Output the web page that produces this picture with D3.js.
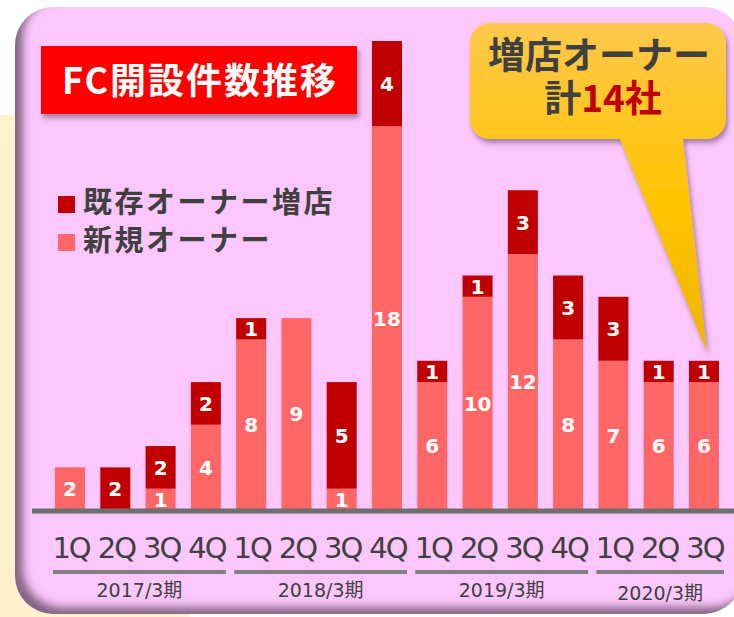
<!DOCTYPE html>
<meta charset="utf-8">
<style>
body { margin: 0; background: #fff; }
svg { display: block; }
.jp { font-family: "Noto Sans CJK JP", sans-serif; font-weight: 700; }
</style>
<body>
<div id="chart"></div>
<script src="https://cdn.jsdelivr.net/npm/d3@7"></script>
<script>

// data
var quarters = ["1Q","2Q","3Q","4Q","1Q","2Q","3Q","4Q","1Q","2Q","3Q","4Q","1Q","2Q","3Q"];
var newOwners = [2, 0, 1, 4, 8, 9, 1, 18, 6, 10, 12, 8, 7, 6, 6];
var existingOwners = [0, 2, 2, 2, 1, 0, 5, 4, 1, 1, 3, 3, 3, 1, 1];
var fiscalYears = ["2017/3期", "2018/3期", "2019/3期", "2020/3期"];
var yearSizes = [4, 4, 4, 3];
var legendLabels = ["既存オーナー増店", "新規オーナー"];

var width = 734, height = 617;
var darkRed = "#C00000", lightRed = "#FF6666", textGrey = "#404040";

var svg = d3.select("#chart").append("svg")
    .attr("width", width)
    .attr("height", height);

var defs = svg.append("defs");

// inner shadow for the pink panel (left and bottom)
var inner = defs.append("filter").attr("id", "inner")
    .attr("x", "-5%").attr("y", "-5%").attr("width", "110%").attr("height", "110%");
inner.append("feOffset").attr("in", "SourceAlpha").attr("dx", 9).attr("dy", -8).attr("result", "off");
inner.append("feGaussianBlur").attr("in", "off").attr("stdDeviation", 4).attr("result", "blur");
inner.append("feComposite").attr("in", "SourceAlpha").attr("in2", "blur").attr("operator", "out").attr("result", "gap");
inner.append("feFlood").attr("flood-color", "#5e3f5e").attr("flood-opacity", 0.85);
inner.append("feComposite").attr("in2", "gap").attr("operator", "in").attr("result", "shadow");
inner.append("feComposite").attr("in", "shadow").attr("in2", "SourceGraphic").attr("operator", "over");

// drop shadow for the title box and the callout
var drop = defs.append("filter").attr("id", "drop")
    .attr("x", "-10%").attr("y", "-10%").attr("width", "130%").attr("height", "130%");
drop.append("feGaussianBlur").attr("in", "SourceAlpha").attr("stdDeviation", 2.5);
drop.append("feOffset").attr("dx", 2).attr("dy", 4).attr("result", "ob");
drop.append("feFlood").attr("flood-color", "#6a4a6a").attr("flood-opacity", 0.6);
drop.append("feComposite").attr("in2", "ob").attr("operator", "in");
var dm = drop.append("feMerge");
dm.append("feMergeNode");
dm.append("feMergeNode").attr("in", "SourceGraphic");

var grad = defs.append("linearGradient").attr("id", "yellow")
    .attr("gradientUnits", "userSpaceOnUse")
    .attr("x1", 0).attr("y1", 23).attr("x2", 0).attr("y2", 352);
grad.append("stop").attr("offset", 0).attr("stop-color", "#FFC84C");
grad.append("stop").attr("offset", 0.55).attr("stop-color", "#FFC400");
grad.append("stop").attr("offset", 1).attr("stop-color", "#EDB500");

// background panels
svg.append("rect")
    .attr("x", -10).attr("y", 115).attr("width", 200).attr("height", 520)
    .attr("fill", "#FFF2CC");

svg.append("rect")
    .attr("x", 15).attr("y", 7).attr("width", 727).attr("height", 607)
    .attr("rx", 38).attr("ry", 38)
    .attr("fill", "#FCC7FC")
    .attr("filter", "url(#inner)");

// scales
var x = d3.scaleBand()
    .domain(d3.range(quarters.length))
    .range([47.4, 726.6])
    .paddingInner(0.337)
    .paddingOuter(0.1685);

var y = d3.scaleLinear()
    .domain([0, 22])
    .range([510, 41]);

var rows = quarters.map(function(q, i) {
  return { i: i, newOwner: newOwners[i], existing: existingOwners[i] };
});

var stack = d3.stack().keys(["newOwner", "existing"]);
var series = stack(rows);
var colors = { newOwner: lightRed, existing: darkRed };

var layers = svg.append("g").selectAll("g")
  .data(series)
  .join("g")
    .attr("fill", function(d) { return colors[d.key]; });

layers.selectAll("rect")
  .data(function(d) { return d; })
  .join("rect")
    .attr("x", function(d) { return x(d.data.i); })
    .attr("y", function(d) { return y(d[1]); })
    .attr("width", x.bandwidth())
    .attr("height", function(d) { return y(d[0]) - y(d[1]); });

// value labels inside the segments
layers.selectAll("text")
  .data(function(d) { return d.filter(function(s) { return s[1] - s[0] > 0; }); })
  .join("text")
    .attr("x", function(d) { return x(d.data.i) + x.bandwidth() / 2; })
    .attr("y", function(d) { return (y(d[0]) + y(d[1])) / 2; })
    .attr("dy", "0.37em")
    .attr("text-anchor", "middle")
    .attr("fill", "#fff")
    .style("font", "bold 20px 'DejaVu Sans', sans-serif")
    .text(function(d) { return d[1] - d[0]; });

// baseline
svg.append("line")
    .attr("x1", 32).attr("x2", 740)
    .attr("y1", 511).attr("y2", 511)
    .attr("stroke", "#6E6E6E")
    .attr("stroke-width", 5);

// quarter labels
var xAxis = svg.append("g")
    .attr("transform", "translate(0,510)")
    .call(d3.axisBottom(x).tickSize(0).tickFormat(function(i) { return quarters[i]; }));
xAxis.select(".domain").remove();
xAxis.selectAll("text")
    .attr("y", 48).attr("dy", 0).attr("dx", 1)
    .attr("fill", textGrey)
    .style("font-family", "'DejaVu Sans', sans-serif")
    .style("font-size", "29px")
    .style("letter-spacing", "-2px");

// fiscal year groups
var start = 0;
var groups = fiscalYears.map(function(name, k) {
  var g = { name: name, first: start, last: start + yearSizes[k] - 1 };
  start += yearSizes[k];
  return g;
});

var yearG = svg.append("g").selectAll("g").data(groups).join("g");
yearG.append("line")
    .attr("x1", function(d) { return x(d.first) + x.bandwidth() / 2 - 17; })
    .attr("x2", function(d) { return x(d.last) + x.bandwidth() / 2 + 20; })
    .attr("y1", 572).attr("y2", 572)
    .attr("stroke", "#808080")
    .attr("stroke-width", 4);
yearG.append("text")
    .attr("x", function(d) { return (x(d.first) + x(d.last) + x.bandwidth()) / 2 + 1.5; })
    .attr("y", function(d, i) { return i == 3 ? 600 : 597; })
    .attr("text-anchor", "middle")
    .attr("fill", textGrey)
    .style("font-family", "'DejaVu Sans', 'Noto Sans CJK JP', sans-serif")
    .style("font-size", "19px")
    .text(function(d) { return d.name; });

// title box
svg.append("rect")
    .attr("x", 41).attr("y", 46).attr("width", 316).attr("height", 68)
    .attr("fill", "#FF0000")
    .attr("filter", "url(#drop)");
svg.append("text")
    .attr("class", "jp")
    .attr("x", 200).attr("y", 94)
    .attr("text-anchor", "middle")
    .attr("fill", "#fff")
    .style("font-size", "36px")
    .style("letter-spacing", "2px")
    .text("FC開設件数推移");

// legend
var legend = svg.append("g").selectAll("g")
  .data(legendLabels)
  .join("g")
    .attr("transform", function(d, i) { return "translate(58," + (196 + i * 38) + ")"; });
legend.append("rect")
    .attr("width", 17).attr("height", 17)
    .attr("fill", function(d, i) { return i == 0 ? darkRed : lightRed; });
legend.append("text")
    .attr("class", "jp")
    .attr("x", 25).attr("y", 17)
    .attr("fill", textGrey)
    .style("font-size", "29px")
    .style("letter-spacing", "2.5px")
    .text(function(d) { return d; });

// callout
var r = 20, bx0 = 470, bx1 = 726, by0 = 23, by1 = 139;
var callout = "M" + (bx0 + r) + "," + by0 +
    "H" + (bx1 - r) + "A" + r + "," + r + " 0 0 1 " + bx1 + "," + (by0 + r) +
    "V" + (by1 - r) + "A" + r + "," + r + " 0 0 1 " + (bx1 - r) + "," + by1 +
    "H683L707,352L620," + by1 +
    "H" + (bx0 + r) + "A" + r + "," + r + " 0 0 1 " + bx0 + "," + (by1 - r) +
    "V" + (by0 + r) + "A" + r + "," + r + " 0 0 1 " + (bx0 + r) + "," + by0 + "Z";
svg.append("path")
    .attr("d", callout)
    .attr("fill", "url(#yellow)")
    .attr("filter", "url(#drop)");

// two lines in one text element
var note = svg.append("text")
    .attr("class", "jp")
    .attr("text-anchor", "middle")
    .style("font-size", "37px");
note.append("tspan")
    .attr("x", 599).attr("y", 69)
    .attr("fill", textGrey)
    .text("増店オーナー");
var l2 = note.append("tspan")
    .attr("x", 603).attr("y", 112);
l2.append("tspan").attr("fill", textGrey).text("計");
l2.append("tspan").attr("fill", darkRed).text("14社");

</script>
